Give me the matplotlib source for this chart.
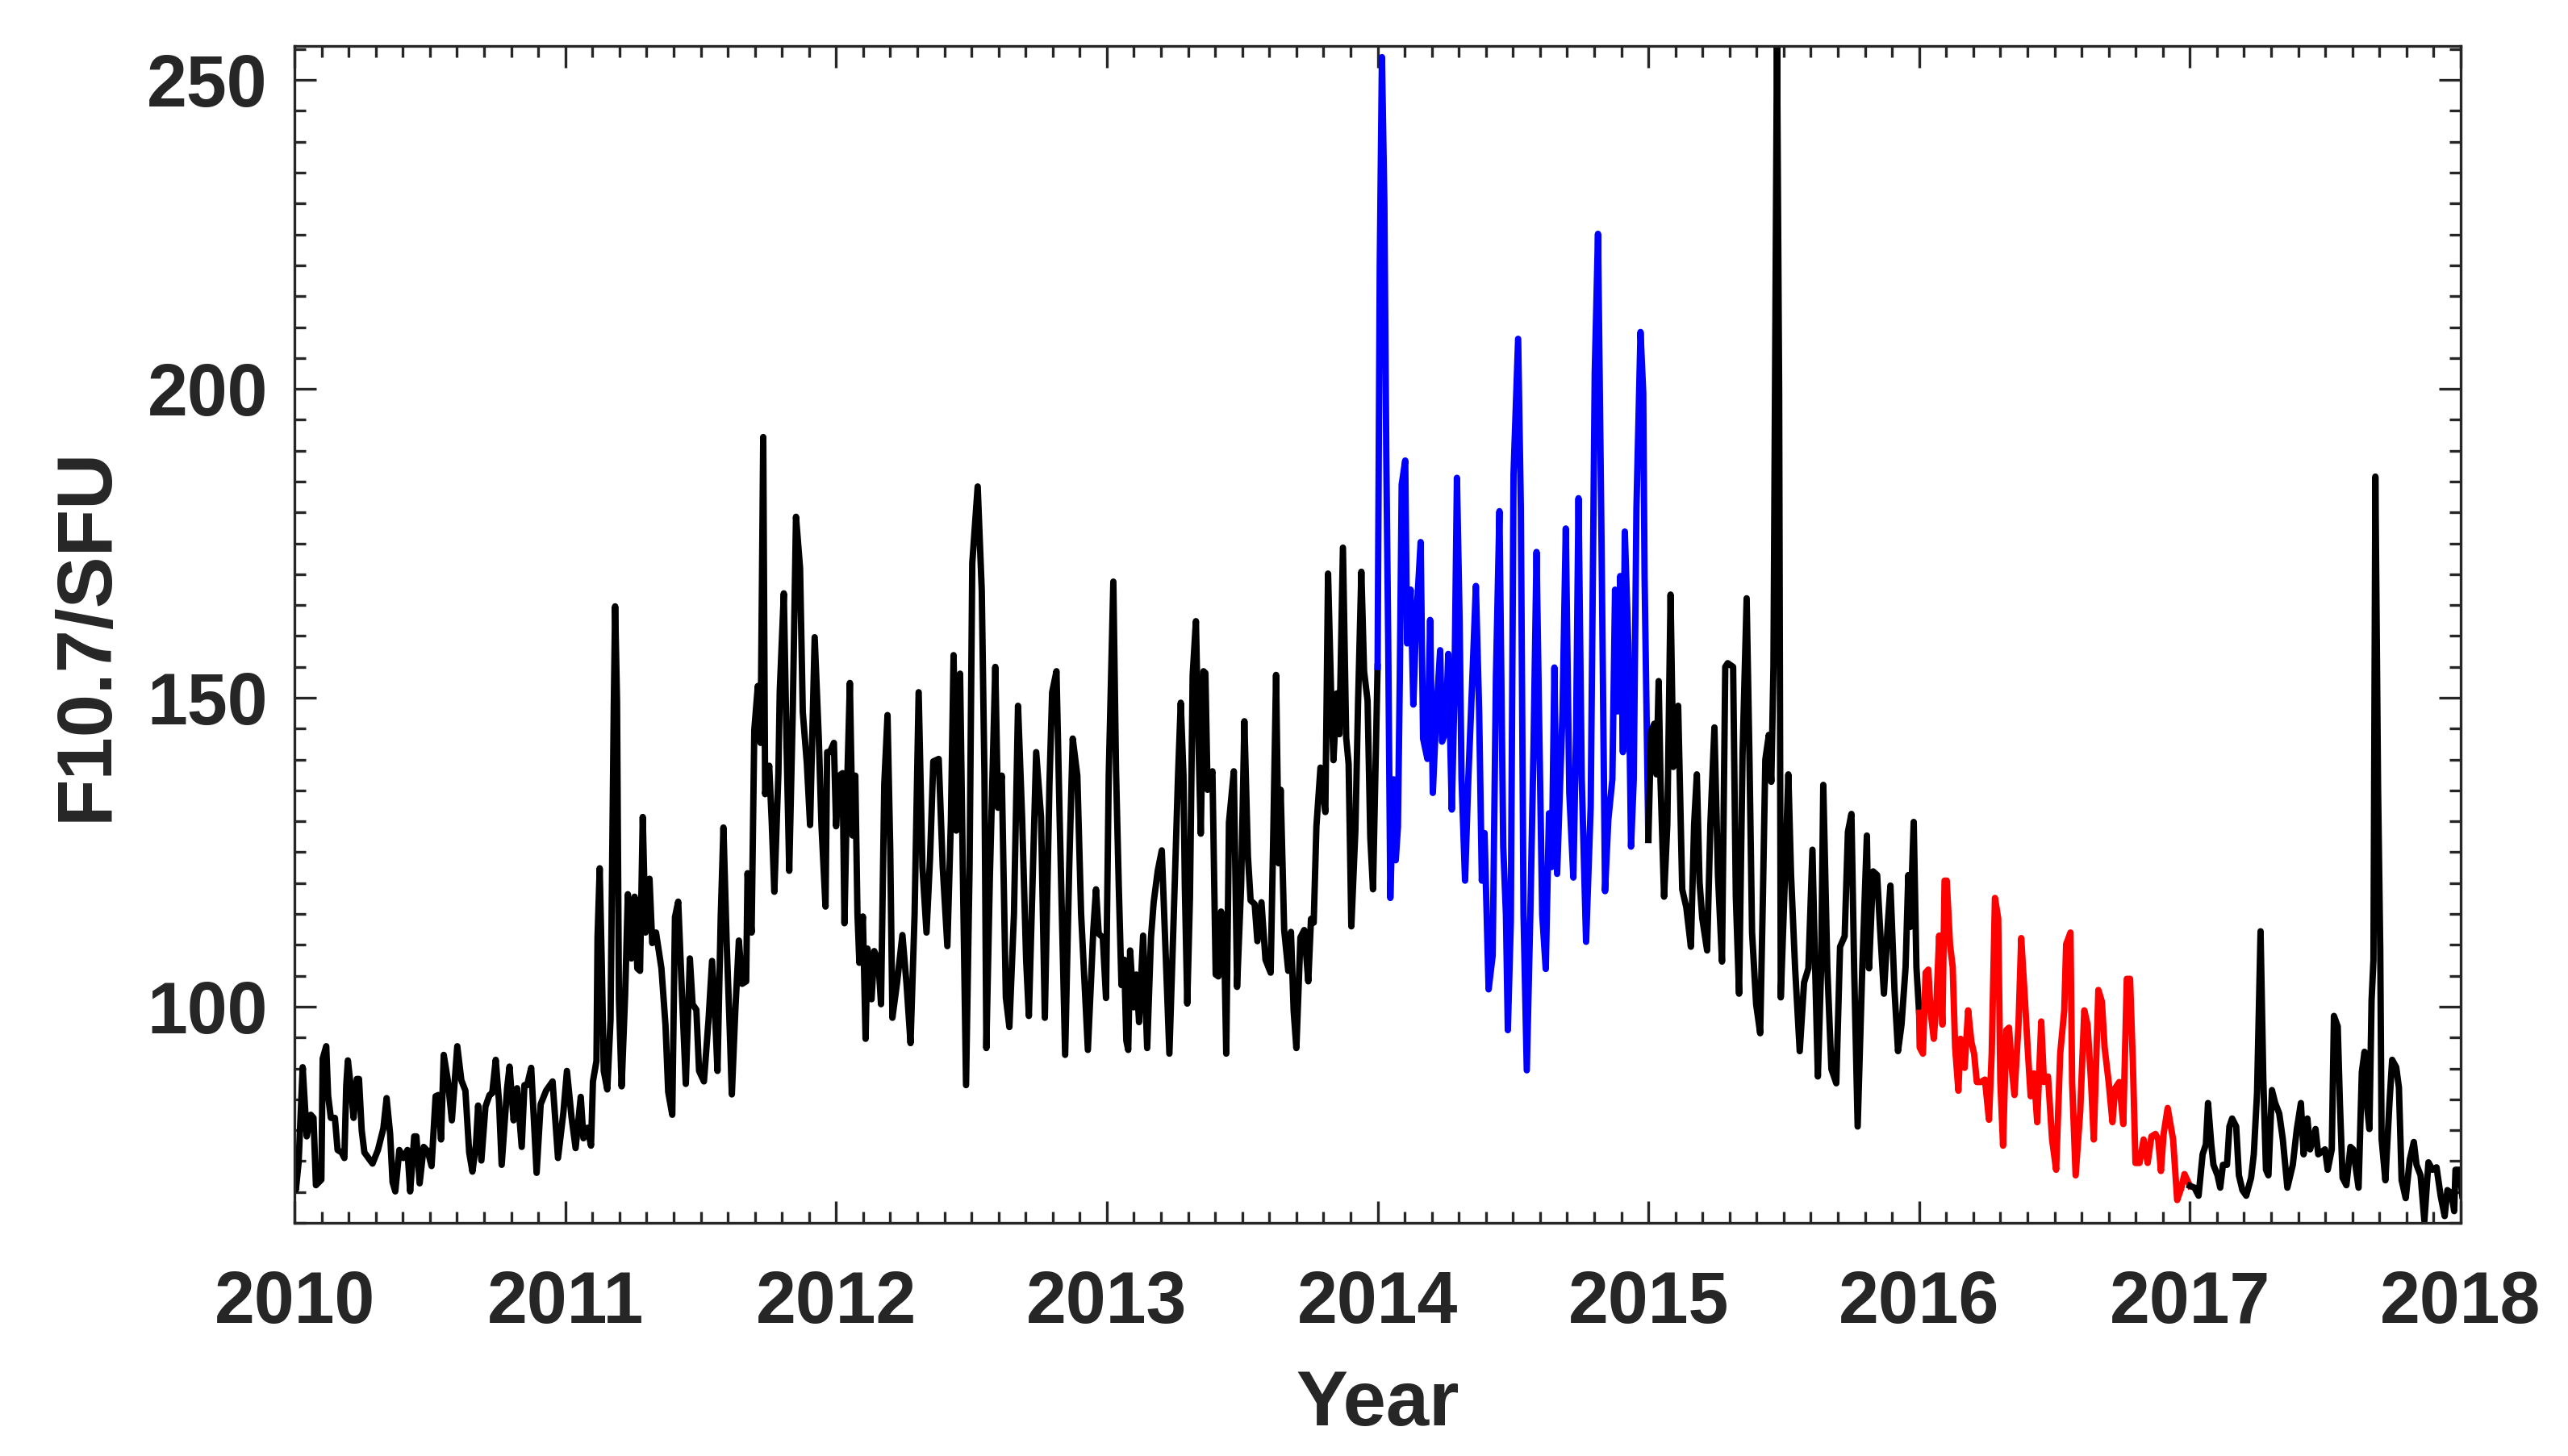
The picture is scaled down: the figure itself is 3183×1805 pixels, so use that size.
import matplotlib
matplotlib.use("Agg")
from matplotlib import pyplot as plt
from matplotlib.ticker import MultipleLocator, FormatStrFormatter
import numpy as np

# decimal year and F10.7 flux (sfu) (peaks / troughs)
t_2010 = [2010.000, 2010.005, 2010.015, 2010.030, 2010.045, 2010.060, 2010.070, 2010.079, 2010.099, 2010.104,
          2010.117, 2010.124, 2010.134, 2010.149, 2010.159, 2010.174, 2010.184, 2010.191, 2010.197, 2010.209,
          2010.218, 2010.230, 2010.238, 2010.248, 2010.258, 2010.288, 2010.308, 2010.328, 2010.340, 2010.353,
          2010.362, 2010.372, 2010.387, 2010.402, 2010.417, 2010.427, 2010.442, 2010.450, 2010.462, 2010.477,
          2010.492, 2010.506, 2010.521, 2010.531, 2010.541, 2010.551, 2010.566, 2010.581, 2010.601, 2010.616,
          2010.631, 2010.645, 2010.657, 2010.670, 2010.678, 2010.690, 2010.705, 2010.720, 2010.730, 2010.743,
          2010.755, 2010.765, 2010.785, 2010.794, 2010.809, 2010.822, 2010.839, 2010.849, 2010.859, 2010.874,
          2010.894, 2010.909, 2010.929, 2010.953, 2010.973, 2010.993]
f_2010 = [73.0, 70.4, 74.8, 90.2, 79.0, 82.5, 82.0, 71.1, 72.0, 91.6,
          93.6, 85.6, 82.0, 82.0, 76.8, 76.4, 75.5, 87.3, 91.3, 86.5,
          82.0, 88.3, 88.3, 80.0, 76.4, 74.6, 76.8, 80.3, 85.2, 79.4,
          71.6, 70.1, 76.8, 75.5, 76.8, 70.1, 79.0, 79.0, 71.4, 77.3,
          76.6, 74.2, 85.5, 85.7, 78.5, 92.2, 88.1, 81.6, 93.6, 88.1,
          86.4, 76.4, 73.3, 77.7, 84.0, 75.1, 83.8, 85.7, 86.0, 91.4,
          84.7, 74.4, 86.8, 90.3, 81.6, 86.8, 77.3, 87.3, 87.3, 90.1,
          73.1, 84.2, 86.4, 87.9, 75.5, 82.9]

t_2011 = [2011.006, 2011.023, 2011.038, 2011.057, 2011.067, 2011.082, 2011.095, 2011.102, 2011.115, 2011.119,
          2011.127, 2011.135, 2011.142, 2011.155, 2011.167, 2011.172, 2011.179, 2011.184, 2011.191, 2011.198,
          2011.208, 2011.221, 2011.231, 2011.244, 2011.256, 2011.266, 2011.276, 2011.286, 2011.296, 2011.311,
          2011.321, 2011.335, 2011.355, 2011.370, 2011.380, 2011.395, 2011.405, 2011.417, 2011.430, 2011.445,
          2011.460, 2011.470, 2011.484, 2011.494, 2011.512, 2011.529, 2011.542, 2011.554, 2011.562, 2011.574,
          2011.584, 2011.596, 2011.606, 2011.615, 2011.628, 2011.641, 2011.653, 2011.668, 2011.673, 2011.688,
          2011.698, 2011.711, 2011.721, 2011.731, 2011.738, 2011.753, 2011.762, 2011.772, 2011.787, 2011.792,
          2011.807, 2011.817, 2011.827, 2011.840, 2011.852, 2011.867, 2011.877, 2011.892, 2011.904, 2011.921,
          2011.936, 2011.946, 2011.961]
f_2011 = [89.6, 82.1, 77.1, 85.4, 78.7, 80.4, 77.5, 87.9, 91.2, 111.2,
          122.4, 106.2, 89.6, 86.6, 97.9, 119.5, 148.6, 164.8, 149.4, 101.2,
          87.1, 102.0, 118.2, 107.8, 117.8, 106.2, 105.8, 130.7, 112.0, 120.7,
          110.3, 112.0, 106.2, 97.0, 86.2, 82.5, 114.5, 117.0, 102.9, 87.5,
          107.8, 100.4, 99.5, 89.6, 87.9, 97.9, 107.4, 97.9, 89.6, 114.5,
          129.0, 110.3, 97.9, 85.8, 99.5, 110.7, 103.7, 104.1, 121.6, 112.0,
          144.8, 151.9, 142.7, 192.2, 134.4, 139.0, 130.3, 118.6, 137.8, 151.1,
          166.9, 142.7, 122.0, 147.7, 179.3, 171.0, 147.7, 139.4, 129.4, 159.8,
          143.6, 129.4, 116.2]

t_2012 = [2011.967, 2011.977, 2011.992, 2012.000, 2012.012, 2012.024, 2012.031, 2012.041, 2012.051, 2012.061,
          2012.071, 2012.079, 2012.086, 2012.099, 2012.109, 2012.116, 2012.131, 2012.141, 2012.156, 2012.166,
          2012.178, 2012.190, 2012.200, 2012.208, 2012.225, 2012.245, 2012.260, 2012.275, 2012.290, 2012.305,
          2012.319, 2012.334, 2012.347, 2012.359, 2012.379, 2012.394, 2012.411, 2012.424, 2012.434, 2012.444,
          2012.458, 2012.468, 2012.480, 2012.493, 2012.503, 2012.523, 2012.538, 2012.548, 2012.555, 2012.568,
          2012.588, 2012.598, 2012.612, 2012.627, 2012.640, 2012.657, 2012.672, 2012.687, 2012.702, 2012.712,
          2012.727, 2012.739, 2012.757, 2012.771, 2012.788, 2012.798, 2012.814, 2012.826, 2012.846, 2012.861,
          2012.874, 2012.891, 2012.905, 2012.930]
f_2012 = [141.2, 141.2, 142.7, 129.2, 137.4, 137.8, 113.5, 136.0, 152.4, 127.7,
          137.4, 115.0, 107.1, 114.6, 94.8, 109.4, 101.2, 109.0, 107.5, 100.4,
          136.0, 147.2, 125.5, 98.2, 103.8, 111.6, 103.8, 94.1, 115.0, 150.9,
          122.5, 112.0, 124.0, 139.7, 140.1, 122.5, 109.8, 130.0, 156.9, 128.5,
          153.9, 122.5, 87.3, 122.5, 171.8, 184.2, 167.4, 137.4, 93.3, 121.0,
          155.0, 132.2, 137.4, 101.5, 96.7, 115.0, 148.7, 130.7, 107.5, 98.5,
          122.5, 141.2, 130.7, 98.2, 136.0, 150.9, 154.3, 130.0, 92.2, 122.5,
          143.4, 137.4, 115.0, 93.0]

t_2013 = [2012.950, 2012.960, 2012.970, 2012.985, 2012.997, 2013.007, 2013.024, 2013.034, 2013.044, 2013.054,
          2013.064, 2013.072, 2013.079, 2013.086, 2013.099, 2013.109, 2013.119, 2013.134, 2013.149, 2013.163,
          2013.173, 2013.188, 2013.203, 2013.218, 2013.231, 2013.248, 2013.263, 2013.273, 2013.283, 2013.288,
          2013.297, 2013.307, 2013.317, 2013.329, 2013.337, 2013.347, 2013.357, 2013.364, 2013.372, 2013.390,
          2013.402, 2013.412, 2013.422, 2013.432, 2013.441, 2013.451, 2013.469, 2013.481, 2013.496, 2013.508,
          2013.521, 2013.531, 2013.546, 2013.556, 2013.571, 2013.586, 2013.605, 2013.615, 2013.625, 2013.635,
          2013.642, 2013.655, 2013.670, 2013.680, 2013.690, 2013.700, 2013.715, 2013.729, 2013.744, 2013.754,
          2013.764, 2013.774, 2013.789, 2013.807, 2013.817, 2013.829, 2013.837, 2013.849, 2013.859, 2013.872,
          2013.884, 2013.893, 2013.903, 2013.918, 2013.928, 2013.940, 2013.950, 2013.963, 2013.973, 2013.983]
f_2013 = [112.4, 119.0, 111.8, 111.2, 101.4, 137.5, 168.8, 138.1, 119.6, 103.5,
          107.6, 94.5, 93.0, 109.1, 99.9, 105.2, 97.5, 111.5, 93.3, 111.2,
          116.9, 122.0, 125.3, 107.6, 92.4, 116.0, 137.5, 149.2, 137.5, 119.6,
          100.5, 117.8, 153.7, 162.4, 145.3, 128.0, 154.3, 154.0, 135.1, 138.1,
          105.2, 104.9, 115.4, 113.6, 92.4, 129.8, 138.1, 103.2, 119.6, 146.2,
          124.4, 117.2, 116.6, 110.6, 116.9, 107.6, 105.5, 128.6, 153.7, 123.2,
          135.1, 112.4, 105.8, 112.1, 99.3, 93.3, 111.2, 112.4, 104.1, 114.2,
          113.6, 129.2, 138.7, 131.5, 170.1, 149.5, 139.9, 150.7, 144.1, 174.3,
          143.5, 139.3, 113.0, 128.6, 149.5, 170.4, 154.3, 149.5, 127.4, 119.0]

t_2014 = [2014.000, 2014.008, 2014.016, 2014.025, 2014.032, 2014.039, 2014.047, 2014.059, 2014.067, 2014.075,
          2014.082, 2014.089, 2014.102, 2014.109, 2014.122, 2014.132, 2014.142, 2014.159, 2014.168, 2014.184,
          2014.194, 2014.204, 2014.216, 2014.231, 2014.238, 2014.251, 2014.261, 2014.274, 2014.283, 2014.293,
          2014.303, 2014.310, 2014.323, 2014.335, 2014.350, 2014.363, 2014.375, 2014.385, 2014.395, 2014.410,
          2014.425, 2014.437, 2014.450, 2014.464, 2014.474, 2014.481, 2014.492, 2014.502, 2014.519, 2014.529,
          2014.539, 2014.551, 2014.564, 2014.576, 2014.587, 2014.598, 2014.608, 2014.621, 2014.633, 2014.643,
          2014.653, 2014.663, 2014.683, 2014.695, 2014.708, 2014.723, 2014.733, 2014.742, 2014.754, 2014.770,
          2014.787, 2014.802, 2014.814, 2014.827, 2014.840, 2014.852, 2014.867, 2014.877, 2014.887, 2014.896,
          2014.906, 2014.913, 2014.926, 2014.936, 2014.946, 2014.956, 2014.971, 2014.981, 2014.986]
f_2014 = [155.0, 220.2, 253.7, 230.1, 189.5, 159.9, 117.6, 136.8, 123.7, 129.1,
          153.3, 184.5, 188.4, 158.8, 167.5, 148.9, 162.1, 175.2, 143.4, 140.1,
          162.6, 134.6, 146.7, 157.7, 142.9, 144.5, 157.1, 131.9, 148.9, 185.6,
          162.1, 136.8, 120.4, 136.8, 153.3, 168.1, 147.8, 120.4, 128.1, 102.8,
          108.3, 153.3, 180.2, 125.9, 114.9, 96.2, 113.8, 186.2, 208.1, 180.7,
          114.9, 89.7, 114.9, 142.3, 173.6, 142.3, 114.9, 106.1, 131.3, 122.6,
          154.9, 121.5, 147.8, 177.4, 134.6, 120.9, 144.5, 182.3, 136.8, 110.5,
          132.4, 202.7, 225.1, 175.2, 118.7, 130.2, 136.8, 167.5, 147.8, 169.7,
          141.2, 176.9, 158.8, 125.9, 136.8, 180.7, 209.2, 199.4, 169.7]

t_2015 = [2015.000, 2015.010, 2015.022, 2015.030, 2015.038, 2015.045, 2015.058, 2015.070, 2015.082, 2015.092,
          2015.110, 2015.125, 2015.140, 2015.157, 2015.169, 2015.179, 2015.189, 2015.199, 2015.217, 2015.229,
          2015.244, 2015.257, 2015.272, 2015.284, 2015.293, 2015.313, 2015.323, 2015.335, 2015.348, 2015.363,
          2015.373, 2015.383, 2015.398, 2015.413, 2015.423, 2015.432, 2015.445, 2015.454, 2015.462, 2015.475,
          2015.483, 2015.489, 2015.502, 2015.517, 2015.527, 2015.542, 2015.559, 2015.575, 2015.591, 2015.606,
          2015.616, 2015.626, 2015.638, 2015.646, 2015.661, 2015.676, 2015.694, 2015.708, 2015.725, 2015.737,
          2015.750, 2015.760, 2015.773, 2015.790, 2015.807, 2015.815, 2015.830, 2015.845, 2015.855, 2015.870,
          2015.884, 2015.894, 2015.909, 2015.922, 2015.935, 2015.950, 2015.960, 2015.967, 2015.980, 2015.990]
f_2015 = [127.0, 144.6, 145.8, 137.6, 152.7, 136.4, 117.8, 129.5, 166.7, 138.8,
          148.7, 119.0, 116.1, 109.7, 129.5, 137.6, 120.2, 114.3, 109.1, 129.5,
          145.2, 121.3, 107.3, 155.0, 155.6, 155.0, 117.8, 102.1, 141.1, 166.1,
          141.1, 112.0, 100.4, 95.7, 117.8, 140.0, 144.0, 136.4, 155.0, 257.0,
          199.3, 101.5, 117.8, 137.6, 121.3, 106.2, 92.8, 103.9, 106.2, 125.4,
          106.2, 88.7, 106.2, 135.9, 106.2, 89.9, 87.6, 109.7, 111.4, 128.3,
          131.2, 106.2, 80.6, 106.2, 127.7, 106.2, 121.9, 121.3, 113.2, 102.1,
          113.2, 119.6, 102.7, 92.8, 97.1, 106.4, 121.3, 112.9, 129.9, 106.4]

t_2016 = [2016.000, 2016.002, 2016.014, 2016.024, 2016.034, 2016.042, 2016.054, 2016.064, 2016.074, 2016.086,
          2016.094, 2016.102, 2016.114, 2016.124, 2016.133, 2016.145, 2016.153, 2016.168, 2016.181, 2016.193,
          2016.203, 2016.213, 2016.228, 2016.243, 2016.258, 2016.268, 2016.280, 2016.292, 2016.300, 2016.310,
          2016.322, 2016.332, 2016.342, 2016.352, 2016.367, 2016.377, 2016.390, 2016.402, 2016.412, 2016.424,
          2016.436, 2016.451, 2016.461, 2016.476, 2016.491, 2016.506, 2016.521, 2016.536, 2016.543, 2016.559,
          2016.565, 2016.578, 2016.595, 2016.610, 2016.622, 2016.635, 2016.645, 2016.662, 2016.675, 2016.685,
          2016.700, 2016.714, 2016.724, 2016.739, 2016.754, 2016.767, 2016.779, 2016.789, 2016.799, 2016.814,
          2016.829, 2016.844, 2016.858, 2016.873, 2016.883, 2016.893, 2016.903, 2016.918, 2016.938, 2016.953,
          2016.968, 2016.980]
f_2016 = [99.0, 93.4, 92.4, 105.5, 106.0, 99.4, 94.8, 100.8, 111.5, 97.1,
          120.4, 120.4, 110.1, 106.4, 93.4, 86.4, 94.8, 90.1, 99.4, 94.3,
          92.4, 87.8, 87.8, 88.2, 81.7, 92.4, 117.6, 114.3, 87.8, 77.5,
          96.2, 96.6, 90.1, 85.7, 97.1, 111.1, 101.7, 92.4, 85.5, 89.2,
          81.3, 97.6, 87.8, 88.7, 78.5, 73.6, 92.4, 99.4, 110.1, 112.0,
          87.8, 72.7, 83.1, 99.4, 97.1, 87.8, 78.5, 102.7, 100.8, 93.4,
          87.8, 81.3, 86.8, 87.8, 81.0, 104.5, 104.5, 91.5, 74.7, 74.7,
          78.5, 74.7, 79.0, 79.4, 78.5, 73.4, 79.4, 83.6, 78.5, 68.7,
          70.6, 72.9]

t_2017 = [2017.000, 2017.017, 2017.032, 2017.047, 2017.059, 2017.067, 2017.079, 2017.087, 2017.102, 2017.112,
          2017.122, 2017.137, 2017.146, 2017.156, 2017.171, 2017.181, 2017.194, 2017.208, 2017.226, 2017.236,
          2017.248, 2017.261, 2017.271, 2017.281, 2017.290, 2017.303, 2017.315, 2017.330, 2017.343, 2017.360,
          2017.380, 2017.395, 2017.410, 2017.420, 2017.434, 2017.444, 2017.464, 2017.474, 2017.499, 2017.509,
          2017.524, 2017.532, 2017.546, 2017.554, 2017.564, 2017.578, 2017.593, 2017.603, 2017.623, 2017.635,
          2017.645, 2017.653, 2017.663, 2017.671, 2017.678, 2017.685, 2017.695, 2017.703, 2017.708, 2017.722,
          2017.737, 2017.747, 2017.762, 2017.772, 2017.782, 2017.797, 2017.812, 2017.827, 2017.837, 2017.852,
          2017.866, 2017.881, 2017.896, 2017.911, 2017.926, 2017.941, 2017.951, 2017.966, 2017.976, 2017.981,
          2017.996, 2018.006]
f_2017 = [71.0, 70.7, 69.4, 76.1, 77.7, 84.4, 77.7, 74.4, 72.7, 70.7,
          74.4, 74.4, 80.6, 81.9, 80.6, 72.7, 70.3, 69.4, 72.3, 76.1,
          86.0, 112.2, 88.5, 73.6, 72.7, 86.5, 84.4, 82.7, 78.6, 70.7,
          74.4, 80.2, 84.4, 76.1, 81.9, 76.9, 80.2, 76.1, 76.9, 73.6,
          76.9, 98.5, 96.8, 84.4, 72.3, 71.1, 77.3, 76.9, 70.7, 89.4,
          92.7, 84.4, 80.2, 101.0, 107.6, 185.8, 135.1, 109.3, 78.6, 71.9,
          84.4, 91.4, 90.2, 86.9, 71.9, 69.0, 75.2, 78.1, 74.4, 72.7,
          65.3, 74.8, 73.6, 74.0, 69.4, 66.1, 70.3, 69.8, 66.9, 73.6,
          73.6, 69.4]

# colour of each time span
span_start = [2010, 2014, 2015, 2016, 2017]
span_end = [2014, 2015, 2016, 2017, 2018.1]
span_color = ["black", "blue", "black", "red", "black"]

t = np.concatenate([t_2010, t_2011, t_2012, t_2013, t_2014, t_2015, t_2016, t_2017])
f = np.concatenate([f_2010, f_2011, f_2012, f_2013, f_2014, f_2015, f_2016, f_2017])
order = np.argsort(t, kind="stable")
t, f = t[order], f[order]

plt.rcParams["font.family"] = ["Liberation Sans", "DejaVu Sans"]
plt.rcParams["font.weight"] = "bold"
dark = "#262626"

fig = plt.figure(figsize=(3183 / 300, 1805 / 300), dpi=300)
ax = fig.add_axes([0.1147, 0.1601, 0.8435, 0.8083])

for lo, hi, c in zip(span_start, span_end, span_color):
    m = (t >= lo) & (t <= hi)
    ax.plot(t[m], f[m], color=c, lw=1.9)

ax.set_xlim(2010, 2018)
ax.set_ylim(65, 255.5)
ax.xaxis.set_major_locator(MultipleLocator(1))
ax.xaxis.set_minor_locator(MultipleLocator(0.1))
ax.xaxis.set_major_formatter(FormatStrFormatter("%d"))
ax.yaxis.set_major_locator(MultipleLocator(50))
ax.yaxis.set_minor_locator(MultipleLocator(5))
ax.yaxis.set_major_formatter(FormatStrFormatter("%d"))

ax.tick_params(which="both", direction="in", top=True, right=True, colors=dark, width=0.8)
ax.tick_params(which="major", length=6.5, labelsize=21.5)
ax.tick_params(axis="x", which="major", pad=14)
ax.tick_params(axis="y", which="major", pad=8)
ax.tick_params(which="minor", length=3.3)
for s in ax.spines.values():
    s.set_color(dark)
    s.set_linewidth(0.8)

ax.set_xlabel("Year", fontsize=23, fontweight="bold", color=dark)
ax.set_ylabel("F10.7/SFU", fontsize=23, fontweight="bold", color=dark)
ax.xaxis.set_label_coords(0.5, -0.124)
ax.yaxis.set_label_coords(-0.079, 0.5)

fig.savefig("out.png", dpi=300)
